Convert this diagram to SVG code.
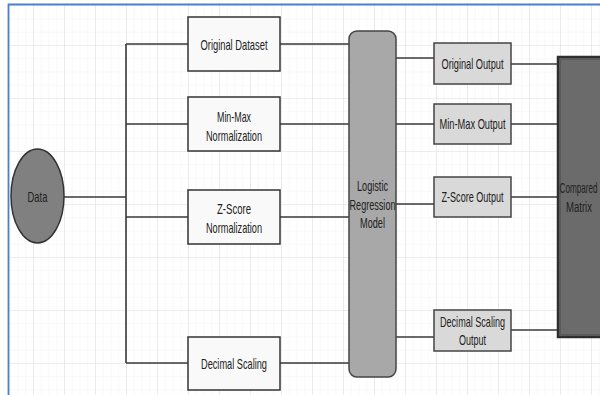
<svg xmlns="http://www.w3.org/2000/svg" width="600" height="395" viewBox="0 0 600 395">
<style>
.t{font-family:"Liberation Sans",Arial,sans-serif;font-size:14.5px;fill:#222;text-anchor:middle}
.c{stroke:#3a3a3a;stroke-width:1.6;fill:none}
.in{fill:#f9f9f9;stroke:#333;stroke-width:1.5}
.out{fill:#d9d9d9;stroke:#444;stroke-width:1.5}
</style>
<defs>
<pattern id="minor" patternUnits="userSpaceOnUse" x="2" y="-8" width="7.75" height="13.25">
<path d="M0 0V13.25M0 0H7.75" stroke="#f1f1f1" stroke-width="1" fill="none"/>
</pattern>
<pattern id="major" patternUnits="userSpaceOnUse" x="2" y="-8" width="31" height="53">
<path d="M0 0V53M0 0H31" stroke="#e2e2e2" stroke-width="1.2" fill="none"/>
</pattern>
</defs>
<rect width="600" height="395" fill="#fff"/>
<rect x="9" y="5" width="591" height="390" fill="url(#minor)"/>
<rect x="9" y="5" width="591" height="390" fill="url(#major)"/>
<path d="M8.5 395V4.5H600" stroke="#4a7fd0" stroke-width="1.8" fill="none"/>

<g id="connectors" class="c">
<path d="M64 197H126M126 44V363M126 44H188M126 124H188M126 217H188M126 363H188"/>
<path d="M280 44H350M280 124H350M280 217H350M280 363H350"/>
<path d="M396 58H434M396 124H434M396 204H434M396 337H434"/>
<path d="M511 64H558M511 124H558M511 197H558M511 330H558"/>
</g>

<g id="data">
<ellipse cx="37.5" cy="196" rx="26.5" ry="47" fill="#808080" stroke="#333" stroke-width="1.5"/>
<text class="t" x="37.5" y="202" textLength="20" lengthAdjust="spacingAndGlyphs">Data</text>
</g>

<g id="original-dataset">
<rect class="in" x="188" y="17" width="92" height="54"/>
<text class="t" x="234" y="49.5" textLength="67" lengthAdjust="spacingAndGlyphs">Original Dataset</text>
</g>
<g id="minmax-normalization">
<rect class="in" x="188" y="97" width="92" height="54"/>
<text class="t" x="234" y="122" textLength="34" lengthAdjust="spacingAndGlyphs">Min-Max</text>
<text class="t" x="234" y="140.5" textLength="56" lengthAdjust="spacingAndGlyphs">Normalization</text>
</g>
<g id="zscore-normalization">
<rect class="in" x="188" y="190" width="92" height="54"/>
<text class="t" x="234" y="213.5" textLength="34" lengthAdjust="spacingAndGlyphs">Z-Score</text>
<text class="t" x="234" y="232.5" textLength="56" lengthAdjust="spacingAndGlyphs">Normalization</text>
</g>
<g id="decimal-scaling">
<rect class="in" x="188" y="337" width="92" height="53"/>
<text class="t" x="234" y="369" textLength="66" lengthAdjust="spacingAndGlyphs">Decimal Scaling</text>
</g>

<g id="logistic-regression">
<rect x="349" y="31" width="47" height="346" rx="8" fill="#a8a8a8" stroke="#444" stroke-width="1.5"/>
<text class="t" x="372.5" y="190.5" textLength="31" lengthAdjust="spacingAndGlyphs">Logistic</text>
<text class="t" x="372.5" y="209.5" textLength="46" lengthAdjust="spacingAndGlyphs">Regression</text>
<text class="t" x="372.5" y="228" textLength="25" lengthAdjust="spacingAndGlyphs">Model</text>
</g>

<g id="original-output">
<rect class="out" x="434" y="43" width="77" height="41"/>
<text class="t" x="472.5" y="69" textLength="62" lengthAdjust="spacingAndGlyphs">Original Output</text>
</g>
<g id="minmax-output">
<rect class="out" x="434" y="104" width="77" height="40"/>
<text class="t" x="472.5" y="129" textLength="66" lengthAdjust="spacingAndGlyphs">Min-Max Output</text>
</g>
<g id="zscore-output">
<rect class="out" x="434" y="177" width="77" height="40"/>
<text class="t" x="472.5" y="202" textLength="62" lengthAdjust="spacingAndGlyphs">Z-Score Output</text>
</g>
<g id="decimal-output">
<rect class="out" x="434" y="310" width="77" height="41"/>
<text class="t" x="472.5" y="327" textLength="65" lengthAdjust="spacingAndGlyphs">Decimal Scaling</text>
<text class="t" x="472.5" y="345" textLength="27" lengthAdjust="spacingAndGlyphs">Output</text>
</g>

<g id="compared-matrix">
<rect x="558" y="57" width="42" height="280" fill="#6b6b6b"/>
<path d="M600 57H558V337H600" fill="none" stroke="#2e2e2e" stroke-width="2.5"/>
<path d="M600 59.5H560.5V334.5H600" fill="none" stroke="#555" stroke-width="0.8"/>
<text class="t" transform="translate(578.5 193) scale(0.56 1)">Compared</text>
<text class="t" transform="translate(579 212) scale(0.66 1)">Matrix</text>
</g>
</svg>
